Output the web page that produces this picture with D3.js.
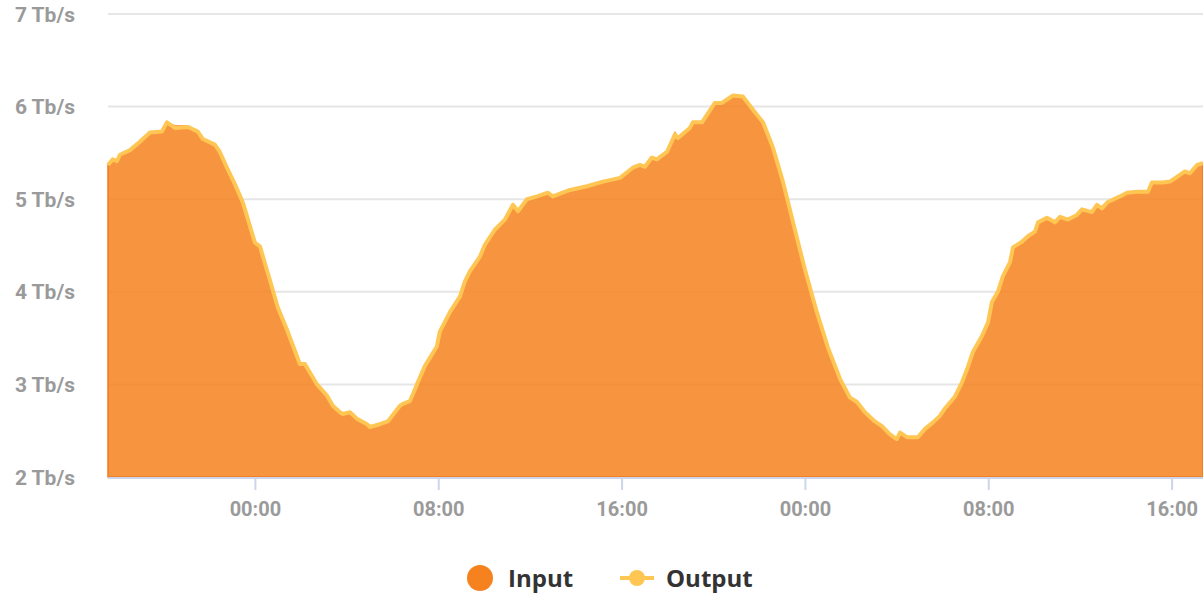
<!DOCTYPE html>
<html lang="en">
<head>
    <meta charset="UTF-8">
    <title>traffic</title>
    <script src="https://cdn.jsdelivr.net/npm/d3@7/dist/d3.min.js"></script>
    <style>
        body { margin: 0; background: #fff; }
    </style>
</head>
<body>

<svg width="1203" height="598"></svg>

<script>

    // hours relative to the first midnight
    var hours = [-6.41, -6.20, -6.02, -5.89, -5.45, -5.02, -4.58, -4.06, -3.84, -3.49,
        -2.92, -2.49, -2.27, -1.75, -1.53, -1.22, -0.87, -0.52, 0, 0.22,
        0.65, 1.00, 1.40, 1.96, 2.18, 2.71, 3.14, 3.40, 3.71, 3.84,
        4.15, 4.45, 4.89, 5.02, 5.45, 5.80, 6.11, 6.33, 6.46, 6.76,
        6.89, 7.07, 7.42, 7.94, 8.07, 8.51, 8.95, 9.16, 9.38, 9.82,
        10.04, 10.47, 10.91, 11.26, 11.48, 11.87, 12.31, 12.79, 13.00, 13.75,
        14.49, 15.19, 15.93, 16.49, 16.80, 17.02, 17.32, 17.54, 17.98, 18.33,
        18.46, 18.98, 19.11, 19.51, 20.07, 20.38, 20.86, 21.29, 21.82, 22.17,
        22.60, 23.04, 23.48, 24.00, 24.52, 25.00, 25.53, 25.96, 26.27, 26.62,
        27.05, 27.36, 27.71, 28.01, 28.15, 28.45, 28.93, 29.24, 29.59, 29.89,
        30.11, 30.55, 30.85, 31.07, 31.33, 31.72, 31.99, 32.16, 32.42, 32.64,
        32.95, 33.08, 33.47, 33.73, 34.04, 34.17, 34.56, 34.91, 35.13, 35.48,
        35.87, 36.09, 36.52, 36.74, 36.96, 37.22, 37.75, 38.05, 38.49, 38.97,
        39.14, 39.62, 39.93, 40.23, 40.58, 40.80, 41.11, 41.37];

    // Tb/s
    var input = [5.37, 5.43, 5.41, 5.48, 5.53, 5.62, 5.72, 5.73, 5.83, 5.79,
        5.79, 5.73, 5.65, 5.59, 5.51, 5.34, 5.16, 4.96, 4.53, 4.49,
        4.13, 3.83, 3.59, 3.22, 3.22, 3.00, 2.88, 2.77, 2.70, 2.68,
        2.70, 2.63, 2.57, 2.54, 2.57, 2.60, 2.70, 2.77, 2.79, 2.82,
        2.89, 3.00, 3.20, 3.41, 3.57, 3.78, 3.95, 4.11, 4.22, 4.38,
        4.51, 4.67, 4.78, 4.94, 4.87, 5.00, 5.03, 5.07, 5.03, 5.10,
        5.14, 5.19, 5.23, 5.34, 5.37, 5.35, 5.45, 5.43, 5.51, 5.72,
        5.67, 5.77, 5.83, 5.83, 6.05, 6.04, 6.12, 6.11, 5.94, 5.83,
        5.56, 5.19, 4.75, 4.24, 3.78, 3.40, 3.06, 2.86, 2.81, 2.70,
        2.60, 2.55, 2.46, 2.41, 2.48, 2.43, 2.43, 2.52, 2.59, 2.66,
        2.74, 2.87, 3.02, 3.16, 3.35, 3.52, 3.67, 3.89, 4.00, 4.17,
        4.32, 4.48, 4.54, 4.60, 4.65, 4.75, 4.80, 4.75, 4.81, 4.78,
        4.83, 4.89, 4.86, 4.94, 4.90, 4.97, 5.03, 5.07, 5.08, 5.08,
        5.18, 5.18, 5.19, 5.24, 5.30, 5.28, 5.37, 5.39];

    var output = [5.37, 5.43, 5.41, 5.48, 5.53, 5.62, 5.72, 5.73, 5.83, 5.77,
        5.78, 5.73, 5.65, 5.59, 5.51, 5.34, 5.16, 4.96, 4.53, 4.49,
        4.13, 3.83, 3.59, 3.22, 3.22, 3.00, 2.88, 2.77, 2.70, 2.68,
        2.70, 2.63, 2.57, 2.54, 2.57, 2.60, 2.70, 2.77, 2.79, 2.82,
        2.89, 3.00, 3.20, 3.41, 3.57, 3.78, 3.95, 4.11, 4.22, 4.38,
        4.51, 4.67, 4.78, 4.94, 4.87, 5.00, 5.03, 5.07, 5.03, 5.10,
        5.14, 5.19, 5.23, 5.34, 5.37, 5.35, 5.45, 5.43, 5.51, 5.70,
        5.66, 5.77, 5.83, 5.83, 6.04, 6.04, 6.12, 6.11, 5.94, 5.83,
        5.56, 5.19, 4.75, 4.24, 3.78, 3.40, 3.06, 2.86, 2.81, 2.70,
        2.60, 2.55, 2.46, 2.41, 2.48, 2.43, 2.43, 2.52, 2.59, 2.66,
        2.74, 2.87, 3.02, 3.16, 3.35, 3.52, 3.67, 3.89, 4.00, 4.17,
        4.32, 4.48, 4.54, 4.60, 4.65, 4.75, 4.80, 4.75, 4.81, 4.78,
        4.83, 4.89, 4.86, 4.94, 4.90, 4.97, 5.03, 5.07, 5.08, 5.08,
        5.18, 5.18, 5.19, 5.24, 5.30, 5.28, 5.37, 5.39];

    var yTicks = [2, 3, 4, 5, 6, 7];
    var seriesNames = ["Input", "Output"];

    var svg = d3.select("svg");
    var plotLeft = 108, plotRight = 1203, plotTop = 14, plotBottom = 477;

    var base = new Date(2020, 2, 10, 0, 0).getTime();
    function toDate(h) { return new Date(base + h * 3600e3); }

    var x = d3.scaleTime()
        .domain([toDate(hours[0]), toDate(hours[hours.length - 1])])
        .range([plotLeft, plotRight]);
    var y = d3.scaleLinear().domain([2, 7]).range([plotBottom, plotTop]);

    var inData = hours.map(function (h, i) { return {t: toDate(h), v: input[i]}; });
    var outData = hours.map(function (h, i) { return {t: toDate(h), v: output[i]}; });

    //网格线
    svg.append("g")
        .selectAll("line")
        .data(yTicks.slice(1))
        .enter()
        .append("line")
        .attr("x1", plotLeft).attr("x2", plotRight)
        .attr("y1", function (d) { return y(d); })
        .attr("y2", function (d) { return y(d); })
        .attr("stroke", "#e6e6e6")
        .attr("stroke-width", 2);

    //y轴文字
    svg.append("g")
        .selectAll("text")
        .data(yTicks)
        .enter()
        .append("text")
        .attr("x", 75)
        .attr("y", function (d) { return y(d); })
        .attr("dy", "0.36em")
        .attr("text-anchor", "end")
        .attr("fill", "#9a9a9a")
        .style("font", "bold 21px Roboto")
        .text(function (d) { return d + " Tb/s"; });

    //面积
    var area = d3.area()
        .x(function (d) { return x(d.t); })
        .y0(y(2))
        .y1(function (d) { return y(d.v); });

    svg.append("path")
        .attr("d", area(inData))
        .attr("fill", "#f5821f")
        .attr("fill-opacity", 0.86)
        .attr("stroke", "#f07a22")
        .attr("stroke-width", 1.5);

    var line = d3.line()
        .x(function (d) { return x(d.t); })
        .y(function (d) { return y(d.v); });

    svg.append("path")
        .attr("d", line(outData))
        .attr("fill", "none")
        .attr("stroke", "#ffc653")
        .attr("stroke-width", 4)
        .attr("stroke-linejoin", "round");

    //x轴
    var xAxis = d3.axisBottom(x)
        .ticks(d3.timeHour.every(8))
        .tickFormat(d3.timeFormat("%H:%M"))
        .tickSize(12)
        .tickPadding(12);

    var gx = svg.append("g")
        .attr("transform", "translate(0," + (plotBottom + 1) + ")")
        .call(xAxis);
    gx.select(".domain").attr("stroke", "#ccd6eb").attr("stroke-width", 2)
        .attr("d", "M" + plotLeft + ",0H" + plotRight);
    gx.selectAll(".tick line").attr("stroke", "#ccd6eb").attr("stroke-width", 2);
    gx.selectAll(".tick text")
        .attr("fill", "#9a9a9a")
        .style("font", "bold 20px Roboto");

    //图例
    var legend = svg.append("g");
    legend.append("circle")
        .attr("cx", 480).attr("cy", 578).attr("r", 13)
        .attr("fill", "#f5821f");
    legend.append("text")
        .attr("x", 508).attr("y", 578).attr("dy", "0.36em")
        .attr("fill", "#333")
        .style("font", "700 24px 'Open Sans'")
        .text(seriesNames[0]);
    legend.append("line")
        .attr("x1", 620).attr("x2", 654).attr("y1", 578).attr("y2", 578)
        .attr("stroke", "#ffc653").attr("stroke-width", 4);
    legend.append("circle")
        .attr("cx", 637).attr("cy", 578).attr("r", 8)
        .attr("fill", "#ffc653");
    legend.append("text")
        .attr("x", 666).attr("y", 578).attr("dy", "0.36em")
        .attr("fill", "#333")
        .style("font", "700 24px 'Open Sans'")
        .text(seriesNames[1]);

</script>
</body>
</html>
